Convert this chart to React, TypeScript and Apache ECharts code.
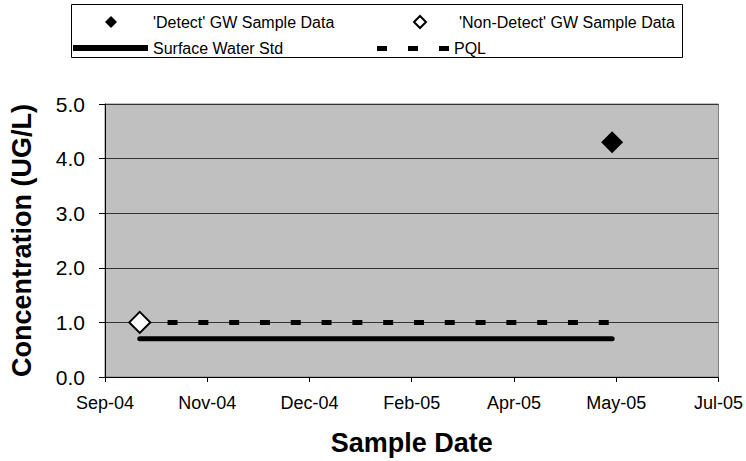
import React, { useEffect, useRef } from "react";
import * as echarts from "echarts";

// Dates are Excel serial day numbers
const xAxisMin = 38250;
const xAxisMax = 38550;
const xAxisStep = 50;
const yAxisMin = 0;
const yAxisMax = 5;
const yAxisStep = 1;

const detectName = "'Detect' GW Sample Data";
const nonDetectName = "'Non-Detect' GW Sample Data";
const surfaceName = "Surface Water Std";
const pqlName = "PQL";

const detectDates = [38498];
const detectValues = [4.3];
const nonDetectDates = [38267];
const nonDetectValues = [1.0];
const surfaceWaterDates = [38267, 38498];
const surfaceWaterValues = [0.7, 0.7];
const pqlDates = [38267, 38498];
const pqlValues = [1.0, 1.0];

const monthNames = ["Jan", "Feb", "Mar", "Apr", "May", "Jun", "Jul", "Aug", "Sep", "Oct", "Nov", "Dec"];

const serialToLabel = (serial: number) => {
  const d = new Date(Date.UTC(1899, 11, 30) + serial * 86400000);
  const yy = String(d.getUTCFullYear() % 100).padStart(2, "0");
  return `${monthNames[d.getUTCMonth()]}-${yy}`;
};

const zip = (xs: number[], ys: number[]) => xs.map((x, i) => [x, ys[i]]);

const FONT = "'Liberation Sans', Arial, sans-serif";

export default function App() {
  const ref = useRef<HTMLDivElement>(null);
  useEffect(() => {
    if (!ref.current) return;
    const chart = echarts.init(ref.current, null, { renderer: "svg" });
    const legendText = { fontFamily: FONT, fontSize: 16, color: "#000" };
    chart.setOption({
      animation: false,
      backgroundColor: "#fff",
      textStyle: { fontFamily: FONT },
      graphic: [
        {
          type: "rect",
          shape: { x: 71.5, y: 4.5, width: 611, height: 53 },
          style: { fill: "#fff", stroke: "#000", lineWidth: 1 },
          z: -1,
          silent: true,
        },
      ],
      legend: [
        {
          left: 105,
          top: 14,
          padding: 0,
          selectedMode: false,
          itemWidth: 12,
          itemHeight: 12,
          textStyle: { ...legendText, padding: [0, 0, 0, 31] },
          data: [{ name: detectName, icon: "diamond", itemStyle: { color: "#000", borderWidth: 0 } }],
        },
        {
          left: 413,
          top: 14,
          padding: 0,
          selectedMode: false,
          itemWidth: 12,
          itemHeight: 12,
          textStyle: { ...legendText, padding: [0, 0, 0, 28] },
          data: [
            {
              name: nonDetectName,
              icon: "diamond",
              itemStyle: { color: "#fff", borderColor: "#000", borderWidth: 2 },
            },
          ],
        },
        {
          left: 73,
          top: 40,
          padding: 0,
          selectedMode: false,
          itemWidth: 75,
          itemHeight: 6,
          textStyle: { ...legendText },
          data: [{ name: surfaceName, icon: "rect", itemStyle: { color: "#000", borderWidth: 0 } }],
        },
        {
          left: 377,
          top: 40.5,
          padding: 0,
          selectedMode: false,
          itemWidth: 72,
          itemHeight: 5,
          textStyle: { ...legendText },
          data: [
            {
              name: pqlName,
              icon: "path://M0,0h10v5h-10z M31,0h10v5h-10z M62,0h10v5h-10z",
              itemStyle: { color: "#000", borderWidth: 0 },
            },
          ],
        },
      ],
      grid: {
        left: 104,
        right: 26,
        top: 104,
        bottom: 84,
        show: true,
        backgroundColor: "#C0C0C0",
        borderColor: "#808080",
        borderWidth: 1,
      },
      xAxis: {
        type: "value",
        min: xAxisMin,
        max: xAxisMax,
        interval: xAxisStep,
        name: "Sample Date",
        nameLocation: "middle",
        nameGap: 52,
        nameTextStyle: { fontFamily: FONT, fontSize: 27, fontWeight: "bold", color: "#000" },
        axisLine: { show: true, onZero: false, lineStyle: { color: "#000", width: 1 } },
        axisTick: { show: true, inside: false, length: 5, lineStyle: { color: "#000" } },
        axisLabel: {
          fontFamily: FONT,
          fontSize: 18,
          color: "#000",
          margin: 17,
          formatter: (v: number) => serialToLabel(v),
        },
        splitLine: { show: false },
      },
      yAxis: {
        type: "value",
        min: yAxisMin,
        max: yAxisMax,
        interval: yAxisStep,
        name: "Concentration (UG/L)",
        nameLocation: "middle",
        nameGap: 70,
        nameTextStyle: { fontFamily: FONT, fontSize: 27, fontWeight: "bold", color: "#000" },
        axisLine: { show: true, lineStyle: { color: "#000", width: 1 } },
        axisTick: { show: true, inside: false, length: 6, lineStyle: { color: "#000" } },
        axisLabel: {
          fontFamily: FONT,
          fontSize: 21,
          color: "#000",
          margin: 20,
          formatter: (v: number) => v.toFixed(1),
        },
        splitLine: { show: true, lineStyle: { color: "#333", width: 1 } },
      },
      series: [
        {
          name: surfaceName,
          type: "line",
          data: zip(surfaceWaterDates, surfaceWaterValues),
          showSymbol: false,
          symbol: "none",
          lineStyle: { color: "#000", width: 5, cap: "round" },
          itemStyle: { color: "#000" },
          z: 2,
        },
        {
          name: pqlName,
          type: "line",
          data: zip(pqlDates, pqlValues),
          showSymbol: false,
          symbol: "none",
          lineStyle: { color: "#000", width: 5, type: [10, 20.8], dashOffset: 3, cap: "butt" },
          itemStyle: { color: "#000" },
          z: 2,
        },
        {
          name: nonDetectName,
          type: "scatter",
          data: zip(nonDetectDates, nonDetectValues),
          symbol: "diamond",
          symbolSize: 21,
          itemStyle: { color: "#fff", borderColor: "#000", borderWidth: 2, opacity: 1 },
          z: 3,
        },
        {
          name: detectName,
          type: "scatter",
          data: zip(detectDates, detectValues),
          symbol: "diamond",
          symbolSize: 22,
          itemStyle: { color: "#000", opacity: 1 },
          z: 3,
        },
      ],
    });
    return () => chart.dispose();
  }, []);
  return (
    <div
      ref={ref}
      style={{ position: "fixed", left: 0, top: 0, width: 746, height: 461 }}
    />
  );
}
